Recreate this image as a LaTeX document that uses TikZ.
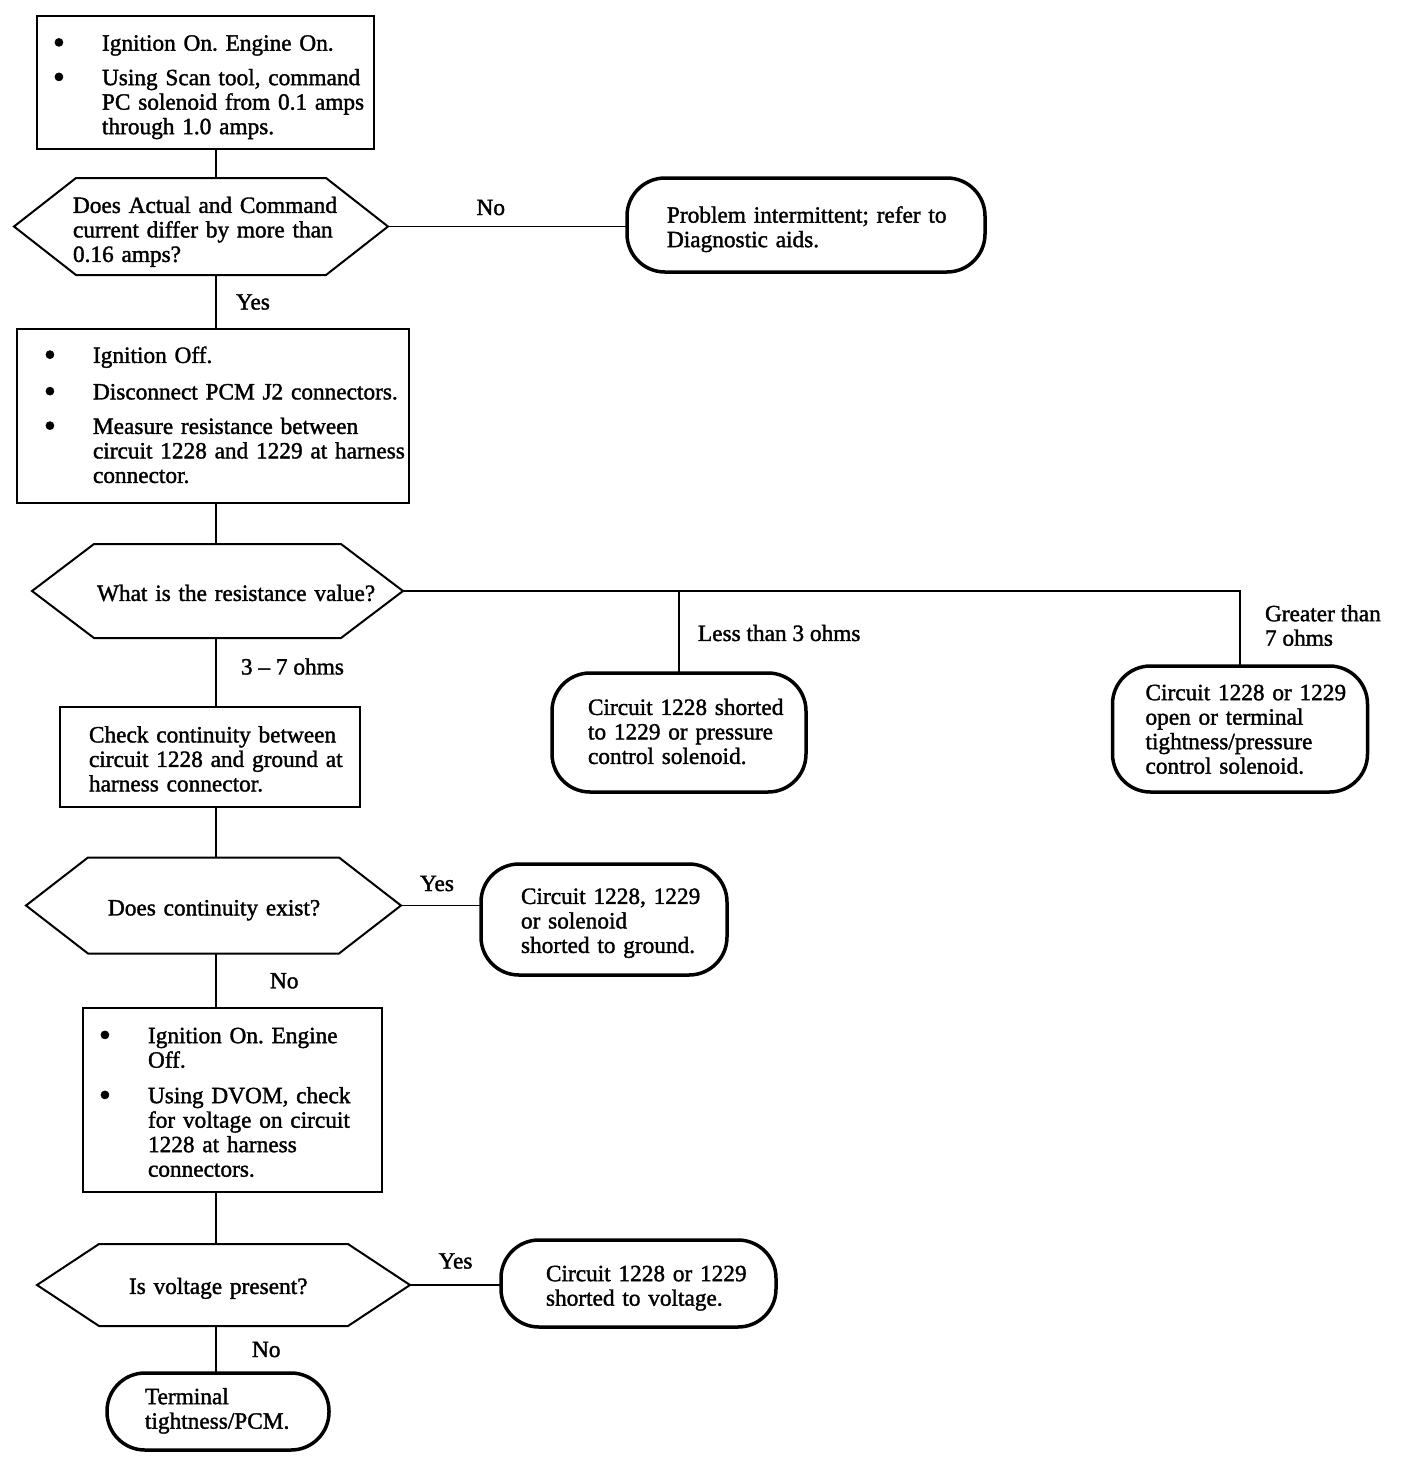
\documentclass[tikz,border=0pt]{standalone}
\usepackage{fontspec}
\setmainfont{Liberation Serif}[FakeBold=1.5]
\newcommand\celltext[2][5pt]{\raisebox{-#1}[\height][\depth]{\begin{tabular}{@{}l@{}}#2\end{tabular}}}
\newcommand\bulltext[2][5pt]{\raisebox{-#1}[\height][\depth]{\begin{tabular}{@{}p{49pt}@{}l@{}}#2\end{tabular}}}
\newcommand\bdot{{\fontsize{34}{24.5}\selectfont\raisebox{-3pt}{\textbullet}}}
\begin{document}
\frenchspacing
\begin{tikzpicture}[x=1pt,y=-1pt,
  every node/.style={font=\fontsize{23.3}{24.5}\selectfont, outer sep=0pt},
  boxn/.style={draw, line width=2.6pt, rectangle, align=left, inner ysep=0pt},
  hexn/.style={rectangle, align=left, inner ysep=0pt},
  termn/.style={draw, line width=3.5pt, rounded corners=38pt, align=left, inner ysep=0pt},
  conn/.style={line width=1.8pt},
  hexline/.style={line width=2pt, line join=miter},
  lbl/.style={inner sep=0pt, align=left},
]
\path[fill=white] (0,0) rectangle (1408,1470);
\useasboundingbox (0,0) rectangle (1408,1470);
\coordinate (tr) at (216,0);

% process boxes
\node[boxn, minimum width=337pt, minimum height=133pt, inner xsep=16pt, text width=305pt] (b1) at (205.5,82.5)
 {\bulltext{\bdot & Ignition On. Engine On.\\[10pt]
  \bdot & Using Scan tool, command\\ & PC solenoid from 0.1 amps\\ & through 1.0 amps.}};
\node[boxn, minimum width=392pt, minimum height=174pt, inner xsep=27pt, text width=338pt] (b2) at (213,416)
 {\bulltext[2pt]{\bdot & Ignition Off.\\[12pt]
  \bdot & Disconnect PCM J2 connectors.\\[10pt]
  \bdot & Measure resistance between\\ & circuit 1228 and 1229 at harness\\ & connector.}};
\node[boxn, minimum width=300pt, minimum height=100pt, inner xsep=29pt, text width=242pt] (b3) at (210,757)
 {\celltext{Check continuity between\\circuit 1228 and ground at\\harness connector.}};
\node[boxn, minimum width=299pt, minimum height=184pt, inner xsep=16pt, text width=267pt] (b4) at (232.5,1100)
 {\bulltext{\bdot & Ignition On. Engine\\ & Off.\\[11pt]
  \bdot & Using DVOM, check\\ & for voltage on circuit\\ & 1228 at harness\\ & connectors.}};

% decisions
\node[hexn, minimum width=374pt, minimum height=97pt, inner xsep=59pt, text width=256pt] (h1) at (201,226.5)
 {\celltext[6pt]{Does Actual and Command\\current differ by more than\\0.16 amps?}};
\node[hexn, minimum width=371pt, minimum height=94pt, inner xsep=65pt, text width=241pt] (h2) at (217.5,591)
 {\celltext{What is the resistance value?}};
\node[hexn, minimum width=375pt, minimum height=96pt, inner xsep=82pt, text width=211pt] (h3) at (213.5,905.5)
 {\celltext{Does continuity exist?}};
\node[hexn, minimum width=373pt, minimum height=82pt, inner xsep=92pt, text width=189pt] (h4) at (223.5,1285)
 {\celltext[4pt]{Is voltage present?}};
\foreach \n in {h1,h2,h3,h4}
  \draw[hexline] ([xshift=62pt]\n.north west) -- ([xshift=-62pt]\n.north east) -- (\n.east)
    -- ([xshift=-62pt]\n.south east) -- ([xshift=62pt]\n.south west) -- (\n.west) -- cycle;

% terminals
\node[termn, minimum width=358pt, minimum height=94pt, inner xsep=40pt, text width=278pt] (t1) at (806,225)
 {\celltext{Problem intermittent; refer to\\Diagnostic aids.}};
\node[termn, minimum width=254pt, minimum height=119pt, inner xsep=36pt, text width=182pt] (t2) at (679,732.5)
 {\celltext[2pt]{Circuit 1228 shorted\\to 1229 or pressure\\control solenoid.}};
\node[termn, minimum width=255pt, minimum height=126pt, inner xsep=33pt, text width=189pt] (t3) at (1240,729)
 {\celltext[3pt]{Circuit 1228 or 1229\\open or terminal\\tightness/pressure\\control solenoid.}};
\node[termn, minimum width=246pt, minimum height=111pt, inner xsep=40pt, text width=166pt] (t4) at (604,919.5)
 {\celltext[4pt]{Circuit 1228, 1229\\or solenoid\\shorted to ground.}};
\node[termn, minimum width=275pt, minimum height=87pt, inner xsep=45pt, text width=185pt] (t5) at (638.5,1283.5)
 {\celltext{Circuit 1228 or 1229\\shorted to voltage.}};
\node[termn, minimum width=222pt, minimum height=77pt, inner xsep=38pt, text width=146pt] (t6) at (218,1411.5)
 {\celltext[0pt]{Terminal\\tightness/PCM.}};

% connectors
\draw[conn] (b1.south -| tr) -- (h1.north -| tr);
\draw[conn] (h1.east) -- node[lbl, pos=0.43, yshift=19pt] (l1) {No} (h1.east -| t1.west);
\draw[conn] (h1.south -| tr) -- node[lbl, anchor=west, xshift=20pt] (l2) {Yes} (b2.north -| tr);
\draw[conn] (b2.south -| tr) -- (h2.north -| tr);
\draw[conn] (h2.east) -| node[lbl, pos=0.75, anchor=west, xshift=25pt, yshift=3pt] (l4) {Greater than\\7 ohms} (t3.north);
\draw[conn] (t2.north) -- node[lbl, anchor=west, xshift=19pt, yshift=-1pt] (l3) {Less than 3 ohms} (t2.north |- h2.east);
\draw[conn] (h2.south -| tr) -- node[lbl, anchor=west, xshift=25pt, yshift=6pt] (l5) {3 – 7 ohms} (b3.north -| tr);
\draw[conn] (b3.south -| tr) -- (h3.north -| tr);
\draw[conn] (h3.east) -- node[lbl, pos=0.45, yshift=22pt] (l6) {Yes} (h3.east -| t4.west);
\draw[conn] (h3.south -| tr) -- node[lbl, anchor=west, xshift=54pt] (l7) {No} (b4.north -| tr);
\draw[conn] (b4.south -| tr) -- (h4.north -| tr);
\draw[conn] (h4.east) -- node[lbl, pos=0.5, yshift=24pt] (l8) {Yes} (h4.east -| t5.west);
\draw[conn] (h4.south -| tr) -- node[lbl, anchor=west, xshift=36pt] (l9) {No} (t6.north -| tr);
\end{tikzpicture}
\end{document}
